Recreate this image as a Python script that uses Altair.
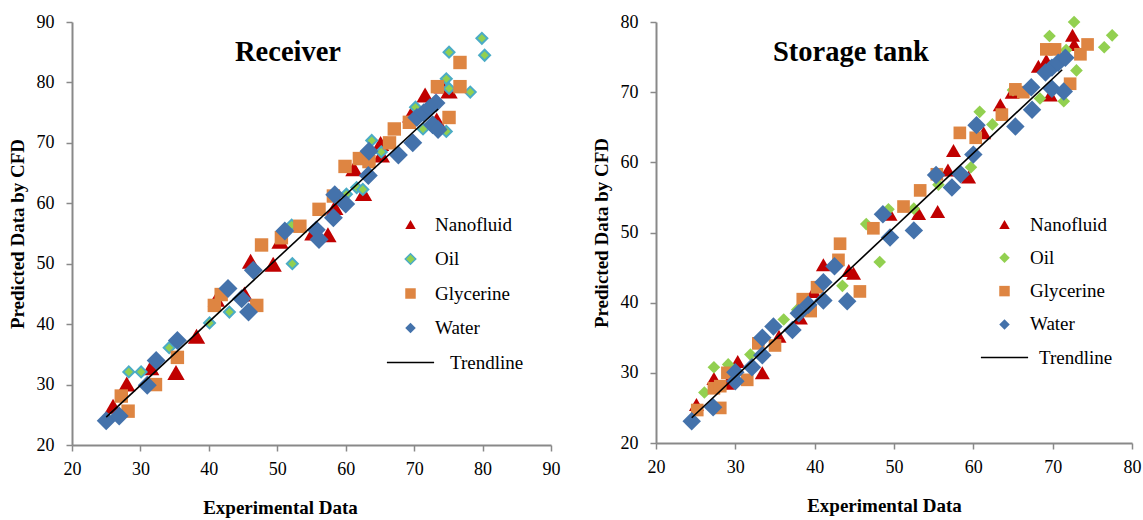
import altair as alt
import pandas as pd

SERIES = ["Nanofluid", "Oil", "Glycerine", "Water"]

# ---------------- Receiver (left panel) ----------------
rec_nano_x = [26.0, 28.0, 31.5, 35.2, 38.2, 41.1, 45.2, 46.1, 49.4, 50.4, 55.2, 57.4, 58.4, 61.2, 62.6, 65.1, 65.2, 69.5, 71.6, 73.3, 74.1, 75.1]
rec_nano_y = [26.4, 30.1, 32.8, 32.0, 38.0, 44.1, 45.0, 50.4, 49.9, 53.7, 55.1, 54.8, 59.3, 65.7, 61.6, 69.9, 68.0, 74.6, 77.9, 73.8, 79.4, 78.6]
rec_oil_x = [28.3, 30.1, 34.2, 40.1, 43.0, 52.2, 52.1, 60.1, 61.6, 62.5, 63.8, 65.2, 70.2, 71.3, 74.7, 74.7, 75.1, 75.1, 78.2, 79.9, 80.3]
rec_oil_y = [32.1, 32.1, 36.1, 40.2, 42.0, 50.0, 56.4, 61.5, 62.6, 62.3, 70.4, 68.5, 75.9, 72.3, 71.9, 80.6, 79.0, 85.0, 78.4, 87.3, 84.5]
rec_gly_x = [27.2, 28.2, 32.2, 35.4, 40.8, 41.8, 47.0, 47.7, 50.6, 53.3, 56.1, 58.2, 59.9, 62.0, 63.4, 66.4, 67.1, 69.3, 73.4, 75.1, 76.7, 76.7]
rec_gly_y = [28.1, 25.6, 30.0, 34.5, 43.1, 44.9, 43.1, 53.1, 54.3, 56.2, 59.0, 61.2, 66.1, 67.4, 66.9, 70.0, 72.3, 73.4, 79.3, 74.2, 79.3, 83.3]
rec_wat_x = [25.0, 26.9, 31.0, 32.3, 35.4, 42.8, 44.8, 45.8, 46.5, 51.1, 55.7, 56.1, 58.2, 58.4, 60.0, 63.3, 63.4, 67.7, 69.8, 70.4, 71.4, 72.3, 73.2, 72.7, 73.5]
rec_wat_y = [24.0, 24.8, 29.9, 34.0, 37.3, 45.9, 44.2, 42.0, 48.9, 55.4, 55.6, 54.0, 57.6, 61.4, 59.9, 64.6, 68.6, 68.0, 70.0, 74.2, 75.0, 75.8, 76.6, 73.0, 72.2]
rec_trend_x = [25.0, 73.5]
rec_trend_y = [24.6, 75.6]
rec_ticks = [20, 30, 40, 50, 60, 70, 80, 90]

# ---------------- Storage tank (right panel) ----------------
st_nano_x = [25.1, 27.3, 29.0, 30.3, 33.4, 35.5, 38.2, 39.9, 41.1, 44.3, 44.9, 49.5, 53.1, 55.5, 57.5, 56.8, 59.4, 61.3, 63.4, 64.9, 68.2, 69.2, 69.7, 72.5, 72.7]
st_nano_y = [25.5, 29.2, 28.5, 31.6, 30.0, 35.2, 37.8, 41.6, 45.4, 44.6, 44.2, 52.6, 52.7, 53.0, 61.7, 58.9, 57.9, 64.2, 68.2, 70.0, 73.7, 74.5, 69.6, 78.1, 76.8]
st_oil_x = [26.1, 27.3, 29.1, 31.9, 36.1, 37.8, 43.5, 46.5, 48.2, 49.3, 52.5, 55.6, 59.7, 60.8, 62.4, 65.0, 68.4, 69.6, 71.4, 71.7, 73.0, 72.7, 76.5, 77.5]
st_oil_y = [27.2, 30.8, 31.2, 32.6, 37.6, 39.0, 42.4, 51.2, 45.8, 53.3, 53.4, 56.8, 59.3, 67.2, 65.4, 70.3, 69.1, 78.0, 68.7, 76.0, 73.1, 80.0, 76.4, 78.1]
st_gly_x = [25.2, 27.3, 28.1, 28.1, 29.0, 31.5, 32.9, 35.0, 38.5, 39.5, 40.3, 43.0, 43.2, 45.7, 47.4, 51.2, 53.3, 55.4, 58.3, 60.3, 63.6, 65.3, 66.3, 69.2, 70.3, 72.2, 73.5, 74.4]
st_gly_y = [24.7, 27.8, 28.1, 25.0, 30.0, 29.0, 34.2, 33.9, 40.5, 38.8, 42.2, 46.1, 48.4, 41.6, 50.6, 53.7, 56.0, 58.3, 64.2, 63.5, 66.8, 70.4, 70.0, 76.1, 76.1, 71.2, 75.4, 76.8]
st_wat_x = [24.5, 27.2, 30.0, 30.0, 32.1, 33.4, 33.4, 34.8, 37.2, 38.0, 39.2, 41.1, 41.1, 42.5, 44.1, 48.6, 49.5, 52.5, 55.3, 57.3, 58.4, 60.0, 60.4, 65.3, 67.4, 67.3, 69.1, 69.9, 70.7, 71.6, 69.9, 71.4]
st_wat_y = [23.1, 25.1, 28.8, 30.1, 30.8, 32.5, 35.0, 36.6, 36.1, 38.5, 39.7, 40.3, 42.9, 45.2, 40.2, 52.6, 49.3, 50.3, 58.2, 56.4, 58.3, 61.1, 65.3, 65.1, 67.5, 70.7, 72.8, 73.5, 74.2, 74.9, 70.5, 70.1]
st_trend_x = [24.5, 71.2]
st_trend_y = [23.6, 73.2]
st_ticks = [20, 30, 40, 50, 60, 70, 80]

FONT = "Liberation Serif"
AXIS_GRAY = "#898989"
SHAPES = ["triangle-up", "diamond", "square", "diamond"]
TREND_PATH = "M-4.5,0H4.5"


def panel(title, title_x, groups, trend_x, trend_y, ticks, fills, strokes, sizes, sws,
          width, height, x_title_x, legend_x, legend_y, label_off, row_pad,
          trend_legend_y, trend_label_off):
    dmin, dmax = ticks[0], ticks[-1]
    legend = alt.Legend(
        orient="none", legendX=legend_x, legendY=legend_y, title=None,
        labelFont=FONT, labelFontSize=19, labelColor="black", labelOffset=label_off,
        symbolSize=110, symbolStrokeWidth=1.5, rowPadding=row_pad, padding=0,
    )
    xax = alt.Axis(values=ticks, title="Experimental Data", titleX=x_title_x, titleAlign="center",
                   titleAnchor="start")
    yax = alt.Axis(values=ticks, title="Predicted Data by CFD")
    xs = alt.Scale(domain=[dmin, dmax], nice=False, zero=False)
    ys = alt.Scale(domain=[dmin, dmax], nice=False, zero=False)

    layers = []
    for (name, gx, gy), size, sw in zip(groups, sizes, sws):
        df = pd.DataFrame({"series": name, "x": gx, "y": gy})
        layers.append(
            alt.Chart(df).mark_point(filled=True, opacity=1, size=size, strokeWidth=sw).encode(
                x=alt.X("x:Q", scale=xs, axis=xax),
                y=alt.Y("y:Q", scale=ys, axis=yax),
                shape=alt.Shape("series:N", scale=alt.Scale(domain=SERIES, range=SHAPES), legend=legend),
                fill=alt.Fill("series:N", scale=alt.Scale(domain=SERIES, range=fills), legend=legend),
                stroke=alt.Stroke("series:N", scale=alt.Scale(domain=SERIES, range=strokes), legend=legend),
            )
        )

    trend_df = pd.DataFrame({"name": "Trendline", "x": trend_x, "y": trend_y})
    trend = alt.Chart(trend_df).mark_line(strokeWidth=1.6).encode(
        x=alt.X("x:Q", scale=xs),
        y=alt.Y("y:Q", scale=ys),
        color=alt.Color("name:N", scale=alt.Scale(domain=["Trendline"], range=["black"]),
                        legend=alt.Legend(orient="none", legendX=legend_x, legendY=trend_legend_y,
                                          title=None, labelFont=FONT, labelFontSize=19,
                                          labelColor="black", labelOffset=trend_label_off,
                                          symbolType=TREND_PATH, symbolSize=110,
                                          symbolStrokeWidth=1.6, padding=0)),
    )

    ttl = alt.Chart(pd.DataFrame({"t": [title]})).mark_text(
        font=FONT, fontSize=28.5, fontWeight="bold", color="black", align="center", baseline="middle"
    ).encode(text="t:N", x=alt.value(title_x), y=alt.value(30))

    return alt.layer(*layers, trend, ttl).properties(width=width, height=height)


left = panel(
    "Receiver", 216,
    [("Nanofluid", rec_nano_x, rec_nano_y), ("Oil", rec_oil_x, rec_oil_y),
     ("Glycerine", rec_gly_x, rec_gly_y), ("Water", rec_wat_x, rec_wat_y)],
    rec_trend_x, rec_trend_y, rec_ticks,
    fills=["#C00000", "#92D050", "#DE8542", "#4472AB"],
    strokes=["transparent", "#4BACC6", "transparent", "transparent"],
    sizes=[300, 120, 180, 360], sws=[1.5, 2, 1.5, 1.5],
    width=479, height=423, x_title_x=208,
    legend_x=329, legend_y=193, label_off=15, row_pad=14.5,
    trend_legend_y=331, trend_label_off=30,
)

right = panel(
    "Storage tank", 195,
    [("Nanofluid", st_nano_x, st_nano_y), ("Oil", st_oil_x, st_oil_y),
     ("Glycerine", st_gly_x, st_gly_y), ("Water", st_wat_x, st_wat_y)],
    st_trend_x, st_trend_y, st_ticks,
    fills=["#C00000", "#92D050", "#DE8542", "#4472AB"],
    strokes=["transparent", "transparent", "transparent", "transparent"],
    sizes=[225, 160, 160, 340], sws=[1.5, 1.5, 1.5, 1.5],
    width=476, height=421, x_title_x=228,
    legend_x=339, legend_y=193, label_off=16, row_pad=13.3,
    trend_legend_y=326, trend_label_off=25,
)

chart = alt.hconcat(left, right, spacing=32).resolve_scale(
    x="independent", y="independent", shape="independent", fill="independent",
    stroke="independent", color="independent"
).resolve_legend(shape="independent", fill="independent", stroke="independent",
                 color="independent").properties(
    padding={"left": 8, "top": 12, "right": 2, "bottom": 2}, background="white"
).configure_view(stroke=None).configure_axis(
    grid=False, domainColor=AXIS_GRAY, domainWidth=2, tickColor=AXIS_GRAY, tickWidth=1.5,
    tickSize=6, labelFont=FONT, labelFontSize=18, labelColor="black", labelFlush=False,
    titleFont=FONT, titleFontSize=19, titleFontWeight="bold", titleColor="black",
).configure_axisX(labelPadding=9, titlePadding=20).configure_axisY(labelPadding=12, titlePadding=9)

chart.save("out.html", embed_options={"renderer": "svg", "actions": False})
